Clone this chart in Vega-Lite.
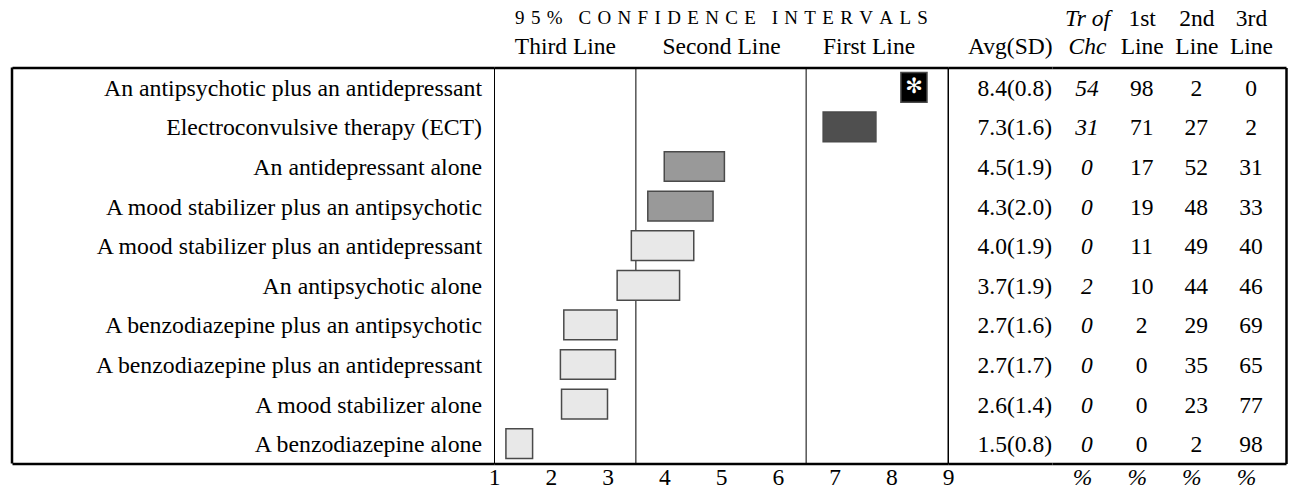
{
  "$schema": "https://vega.github.io/schema/vega-lite/v6.json",
  "padding": {"left": 10, "right": 10, "top": 5.5, "bottom": 5},
  "background": "white",
  "spacing": 0,
  "bounds": "flush",
  "datasets": {
    "rows": [
      {"treatment": "An antipsychotic plus an antidepressant", "lo": 8.17, "hi": 8.63, "mean": 8.4, "rating": "top", "avg": "8.4(0.8)", "tr": "54", "c1": "98", "c2": "2", "c3": "0"},
      {"treatment": "Electroconvulsive therapy (ECT)", "lo": 6.8, "hi": 7.73, "mean": 7.3, "rating": "first", "avg": "7.3(1.6)", "tr": "31", "c1": "71", "c2": "27", "c3": "2"},
      {"treatment": "An antidepressant alone", "lo": 4.0, "hi": 5.06, "mean": 4.5, "rating": "second", "avg": "4.5(1.9)", "tr": "0", "c1": "17", "c2": "52", "c3": "31"},
      {"treatment": "A mood stabilizer plus an antipsychotic", "lo": 3.71, "hi": 4.86, "mean": 4.3, "rating": "second", "avg": "4.3(2.0)", "tr": "0", "c1": "19", "c2": "48", "c3": "33"},
      {"treatment": "A mood stabilizer plus an antidepressant", "lo": 3.42, "hi": 4.52, "mean": 4.0, "rating": "none", "avg": "4.0(1.9)", "tr": "0", "c1": "11", "c2": "49", "c3": "40"},
      {"treatment": "An antipsychotic alone", "lo": 3.17, "hi": 4.27, "mean": 3.7, "rating": "none", "avg": "3.7(1.9)", "tr": "2", "c1": "10", "c2": "44", "c3": "46"},
      {"treatment": "A benzodiazepine plus an antipsychotic", "lo": 2.23, "hi": 3.17, "mean": 2.7, "rating": "none", "avg": "2.7(1.6)", "tr": "0", "c1": "2", "c2": "29", "c3": "69"},
      {"treatment": "A benzodiazepine plus an antidepressant", "lo": 2.17, "hi": 3.14, "mean": 2.7, "rating": "none", "avg": "2.7(1.7)", "tr": "0", "c1": "0", "c2": "35", "c3": "65"},
      {"treatment": "A mood stabilizer alone", "lo": 2.19, "hi": 3.0, "mean": 2.6, "rating": "none", "avg": "2.6(1.4)", "tr": "0", "c1": "0", "c2": "23", "c3": "77"},
      {"treatment": "A benzodiazepine alone", "lo": 1.21, "hi": 1.68, "mean": 1.5, "rating": "none", "avg": "1.5(0.8)", "tr": "0", "c1": "0", "c2": "2", "c3": "98"}
    ],
    "cuts": [{"cut": 3.5}, {"cut": 6.5}]
  },
  "config": {
    "view": {"stroke": "black", "strokeWidth": 1},
    "scale": {"bandPaddingInner": 0.25, "bandPaddingOuter": 0.125},
    "axis": {
      "domainColor": "black", "domainWidth": 2.5, "ticks": false, "grid": false,
      "labelFont": "Liberation Serif", "labelFontSize": 23.5, "labelColor": "black",
      "labelFlush": false, "labelOverlap": false, "labelLimit": 0, "labelAngle": 0,
      "titleFont": "Liberation Serif", "titleFontWeight": "normal", "titleColor": "black", "titleFontSize": 19
    },
    "text": {"font": "Liberation Serif", "fontSize": 23.5, "color": "black"}
  },
  "hconcat": [
    {
      "width": 482, "height": 396,
      "view": {"stroke": null},
      "resolve": {"axis": {"x": "independent"}},
      "layer": [
        {
          "data": {"values": [{"edge": "left"}]},
          "mark": {"type": "rule", "color": "black", "strokeWidth": 2.5},
          "encoding": {
            "x": {"datum": 0, "type": "quantitative", "scale": {"domain": [0, 1], "nice": false}, "axis": {"orient": "top", "labels": false, "title": null}}
          }
        },
        {
          "data": {"name": "rows"},
          "mark": {"type": "text", "align": "right", "baseline": "middle", "dx": -12, "dy": 1.5, "fontSize": 23.8},
          "encoding": {
            "x": {"datum": 1, "type": "quantitative", "scale": {"domain": [0, 1], "nice": false}, "axis": {"orient": "bottom", "labels": false, "title": null}},
            "y": {"field": "treatment", "type": "nominal", "sort": null, "axis": null},
            "text": {"field": "treatment"}
          }
        }
      ]
    },
    {
      "width": 454, "height": 396,
      "resolve": {"axis": {"x": "independent"}},
      "layer": [
        {
          "data": {"name": "cuts"},
          "mark": {"type": "rule", "color": "black", "strokeWidth": 1},
          "encoding": {
            "x": {"field": "cut", "type": "quantitative", "scale": {"domain": [1, 9], "nice": false, "zero": false},
              "axis": {"orient": "top", "values": [2.25, 5, 7.6], "labelExpr": "datum.value < 3 ? 'Third Line' : datum.value < 6 ? 'Second Line' : 'First Line'", "labelPadding": 9.5, "title": "9\u20045\u2004%\u2002\u2004C\u2004O\u2004N\u2004F\u2004I\u2004D\u2004E\u2004N\u2004C\u2004E\u2002\u2004I\u2004N\u2004T\u2004E\u2004R\u2004V\u2004A\u2004L\u2004S", "titlePadding": 7}}
          }
        },
        {
          "data": {"name": "rows"},
          "mark": {"type": "bar", "stroke": "#4a4a4a", "strokeWidth": 1.5},
          "encoding": {
            "x": {"field": "lo", "type": "quantitative", "scale": {"domain": [1, 9], "nice": false, "zero": false},
              "axis": {"orient": "bottom", "values": [1, 2, 3, 4, 5, 6, 7, 8, 9], "labelPadding": 1.5, "title": null}},
            "x2": {"field": "hi"},
            "y": {"field": "treatment", "type": "nominal", "sort": null, "axis": null},
            "color": {"field": "rating", "type": "nominal", "scale": {"domain": ["top", "first", "second", "none"], "range": ["#000000", "#4f4f4f", "#999999", "#e8e8e8"]}, "legend": null}
          }
        },
        {
          "data": {"name": "rows"},
          "transform": [{"filter": "datum.rating === 'top'"}],
          "mark": {"type": "text", "text": "✻", "color": "white", "font": "DejaVu Sans", "fontSize": 21, "baseline": "middle"},
          "encoding": {
            "x": {"field": "mean", "type": "quantitative", "scale": {"domain": [1, 9], "nice": false, "zero": false}, "axis": null},
            "y": {"field": "treatment", "type": "nominal", "sort": null, "axis": null}
          }
        }
      ]
    },
    {
      "width": 104, "height": 396,
      "view": {"stroke": null},
      "resolve": {"axis": {"x": "independent"}},
      "layer": [
        {
          "data": {"values": [{"edge": "left"}]},
          "mark": {"type": "rule", "color": "black", "strokeWidth": 1},
          "encoding": {
            "x": {"datum": 0, "type": "quantitative", "scale": {"domain": [0, 1], "nice": false}, "axis": {"orient": "bottom", "labels": false, "title": null}}
          }
        },
        {
          "data": {"name": "rows"},
          "mark": {"type": "text", "align": "right", "baseline": "middle", "dy": 1.5},
          "encoding": {
            "x": {"datum": 1, "type": "quantitative", "scale": {"domain": [0, 1], "nice": false}, "axis": {"orient": "top", "values": [1], "labelExpr": "'Avg(SD)'", "labelAlign": "right", "labelPadding": 9.5, "title": null}},
            "y": {"field": "treatment", "type": "nominal", "sort": null, "axis": null},
            "text": {"field": "avg"}
          }
        }
      ]
    },
    {
      "width": 234, "height": 396,
      "view": {"stroke": null},
      "data": {"name": "rows"},
      "transform": [{"fold": ["tr", "c1", "c2", "c3"], "as": ["col", "val"]}],
      "resolve": {"axis": {"x": "independent"}},
      "layer": [
        {
          "transform": [{"filter": "datum.col !== 'tr'"}],
          "mark": {"type": "text", "baseline": "middle", "dy": 1.5},
          "encoding": {
            "x": {"field": "col", "type": "nominal", "scale": {"type": "point", "domain": ["tr", "c1", "c2", "c3"], "padding": 0.64},
              "axis": {"orient": "top", "labelExpr": "datum.value === 'tr' ? ['Tr of', 'Chc'] : datum.value === 'c1' ? ['1st', 'Line'] : datum.value === 'c2' ? ['2nd', 'Line'] : ['3rd', 'Line']", "labelLineHeight": 28, "labelPadding": 37.5, "labelFontStyle": {"condition": {"test": "datum.value === 'tr'", "value": "italic"}, "value": "normal"}, "title": null}},
            "y": {"field": "treatment", "type": "nominal", "sort": null, "axis": {"orient": "right", "labels": false, "title": null}},
            "text": {"field": "val"}
          }
        },
        {
          "transform": [{"filter": "datum.col === 'tr'"}],
          "mark": {"type": "text", "baseline": "middle", "dy": 1.5, "fontStyle": "italic"},
          "encoding": {
            "x": {"field": "col", "type": "nominal", "scale": {"type": "point", "domain": ["tr", "c1", "c2", "c3"], "padding": 0.64},
              "axis": {"orient": "bottom", "labelExpr": "'%'", "labelFontStyle": "italic", "labelPadding": 1.5, "labelOffset": -5, "title": null}},
            "y": {"field": "treatment", "type": "nominal", "sort": null, "axis": {"orient": "right", "labels": false, "title": null}},
            "text": {"field": "val"}
          }
        }
      ]
    }
  ]
}
